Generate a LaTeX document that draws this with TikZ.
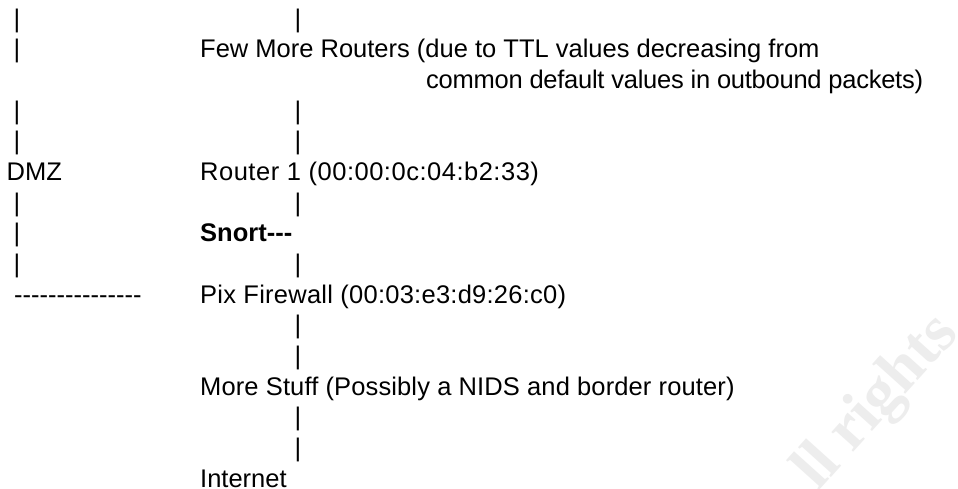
\documentclass[tikz,border=0pt]{standalone}
\usepackage{fontspec}
\setmainfont[Ligatures=NoCommon]{Liberation Sans}
\newfontfamily\wmfont{Liberation Serif}
\begin{document}
\begin{tikzpicture}[x=1pt,y=-1pt,
  txt/.style={anchor=base west,inner sep=0pt,font=\fontsize{25.5}{25.5}\selectfont},
  pipe/.style={anchor=base,inner sep=0pt,font=\fontsize{25.5}{25.5}\selectfont}]
\useasboundingbox[fill=white] (0,0) rectangle (958,488);
% watermark
\begin{scope}
\clip (0,0) rectangle (958,488);
\node[anchor=base west,inner sep=0pt,rotate=48,text=black!7,font=\wmfont\bfseries\fontsize{64}{64}\selectfont] (wm) at (818,492) {ll rights};
\end{scope}
% left column
\node[pipe] (l0) at (17,27.0) {|};
\node[pipe] (l1) at (17,57.7) {|};
\node[pipe] (l3) at (17,119.0) {|};
\node[pipe] (l4) at (17,149.7) {|};
\node[txt] (dmz) at (6.5,180.3) {DMZ};
\node[pipe] (l6) at (17,211.0) {|};
\node[pipe] (l7) at (17,241.7) {|};
\node[pipe] (l8) at (17,272.3) {|};
\node[txt] (dash) at (14,303.0) {-{}-{}-{}-{}-{}-{}-{}-{}-{}-{}-{}-{}-{}-{}-};
% centre column
\node[pipe] (c0) at (298,27.0) {|};
\node[txt] (few) at (200,57.7) {Few More Routers (due to TTL values decreasing from};
\node[txt] (few2) at (426,88.3) {\addfontfeature{LetterSpace=-1.0}common default values in outbound packets)};
\node[pipe] (c3) at (298,119.0) {|};
\node[pipe] (c4) at (298,149.7) {|};
\node[txt] (r1) at (200,180.3) {\addfontfeature{LetterSpace=2.0}Router 1 (00:00:0c:04:b2:33)};
\node[pipe] (c6) at (298,211.0) {|};
\node[txt,font=\bfseries\fontsize{25.5}{25.5}\selectfont] (snort) at (200,241.7) {Snort-{}-{}-};
\node[pipe] (c8) at (298,272.3) {|};
\node[txt] (pix) at (200,303.0) {\addfontfeature{LetterSpace=1.0}Pix Firewall (00:03:e3:d9:26:c0)};
\node[pipe] (c10) at (298,333.7) {|};
\node[pipe] (c11) at (298,364.3) {|};
\node[txt] (more) at (200,395.0) {\addfontfeature{LetterSpace=0.5}More Stuff (Possibly a NIDS and border router)};
\node[pipe] (c13) at (298,425.7) {|};
\node[pipe] (c14) at (298,456.3) {|};
\node[txt] (inet) at (200,487.0) {Internet};
\end{tikzpicture}
\end{document}
